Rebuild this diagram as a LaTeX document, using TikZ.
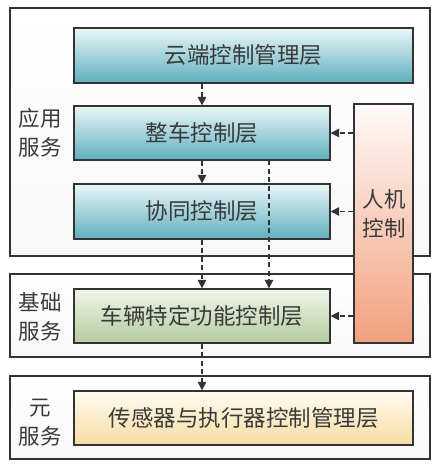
\documentclass[tikz,border=0pt]{standalone}
\usepackage{fontspec}
\newfontfamily\cjk{Noto Sans CJK SC}
\usetikzlibrary{arrows.meta,calc}
\definecolor{linec}{HTML}{333333}
\definecolor{txtc}{HTML}{3A3A3A}
\tikzset{
  groupbox/.style={draw=linec, line width=1.3pt, top color=white, bottom color=black!3, minimum width=420pt, minimum height=83pt, inner sep=0pt},
  layerbox/.style={draw=linec, line width=1.3pt, inner sep=0pt, font=\cjk\fontsize{22.5}{26}\selectfont, text=txtc},
  tealbox/.style={layerbox, top color=HTML-teal-top, bottom color=HTML-teal-bot},
  sidelabel/.style={font=\cjk\fontsize{21.5}{29}\selectfont, text=txtc, align=center},
  dar/.style={draw=linec, line width=1.2pt, dash pattern=on 5pt off 3.5pt, -{Triangle[length=8.5pt,width=8.5pt]}},
}
\definecolor{HTML-teal-top}{HTML}{EAF6F8}
\definecolor{HTML-teal-bot}{HTML}{5FAFBF}
\definecolor{greentop}{HTML}{F0F5EA}
\definecolor{greenbot}{HTML}{B3CC9E}
\definecolor{yeltop}{HTML}{FFFBF2}
\definecolor{yelbot}{HTML}{F7DCA2}
\definecolor{saltop}{HTML}{FFFAF8}
\definecolor{salbot}{HTML}{F2A07E}
\begin{document}
\begin{tikzpicture}[x=1pt,y=-1pt]
\useasboundingbox[fill=white] (0,0) rectangle (436,465);
% group boxes
\node[groupbox, minimum height=248pt] (g1) at (220,132) {};
\node[groupbox] (g2) at (220,315.5) {};
\node[groupbox] (g3) at (220,417.5) {};
% layer boxes
\node[tealbox, minimum width=339pt, minimum height=55pt] (cloud) at (243.5,55.5) {云端控制管理层};
\node[tealbox, minimum width=256pt, minimum height=54pt] (zc) at (202,133) {整车控制层};
\node[tealbox, minimum width=256pt, minimum height=55pt] (xt) at (202,211.5) {协同控制层};
\node[layerbox, top color=greentop, bottom color=greenbot, minimum width=256pt, minimum height=54pt] (cl) at (202,316) {车辆特定功能控制层};
\node[layerbox, top color=yeltop, bottom color=yelbot, minimum width=339pt, minimum height=54pt] (cg) at (243.5,418) {传感器与执行器控制管理层};
\node[draw=linec, line width=1.3pt, top color=saltop, bottom color=salbot, minimum width=59pt, minimum height=239pt, inner sep=0pt] (hm) at (383.5,223.5) {};
\node[sidelabel] (hmt) at (384,214) {人机\\控制};
% side labels
\node[sidelabel] (l1) at (40,133) {应用\\服务};
\node[sidelabel] (l2) at (40,317) {基础\\服务};
\node[sidelabel] (l3) at (40,423) {元\\服务};
% arrows
\draw[dar] (zc.north |- cloud.south) -- (zc.north);
\draw[dar] (zc.south) -- (xt.north);
\draw[dar] (xt.south) -- (cl.north);
\coordinate (d1) at (269,160);
\draw[dar] (d1) -- (d1 |- cl.north);
\draw[dar] (cl.south) -- (cl.south |- cg.north);
\draw[dar] (hm.west |- zc.east) -- (zc.east);
\draw[dar] (hm.west |- xt.east) -- (xt.east);
\draw[dar] (hm.west |- cl.east) -- (cl.east);
\end{tikzpicture}
\end{document}
